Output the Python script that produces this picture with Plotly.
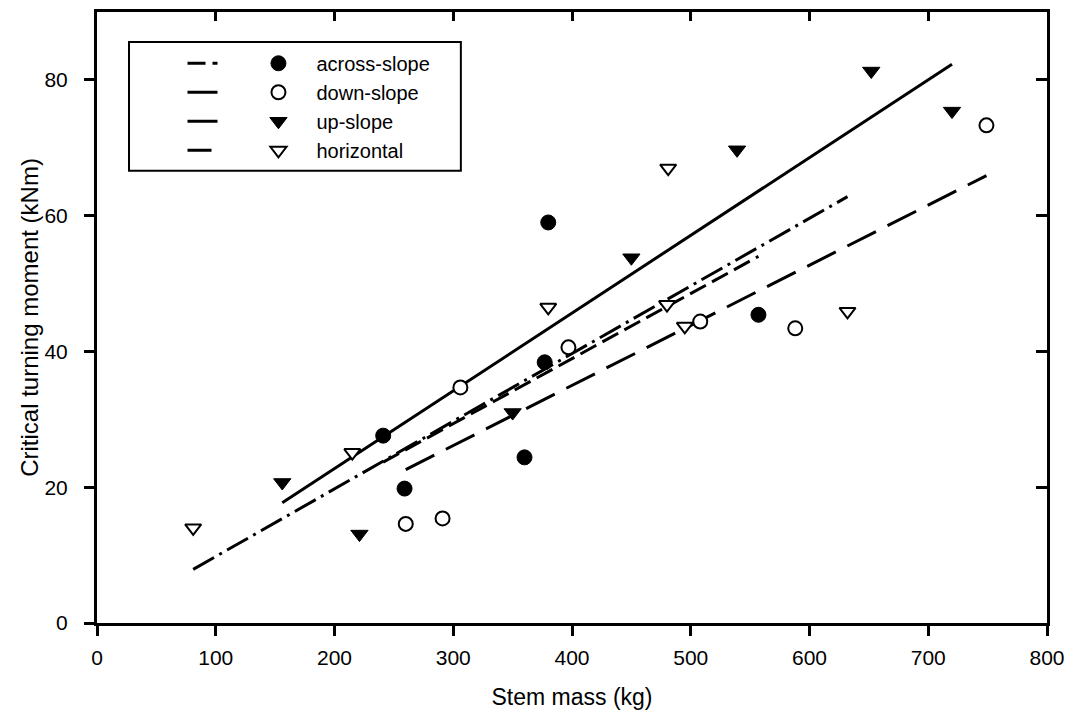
import plotly.graph_objects as go

# ---- data ----
across_x = [241, 259, 360, 377, 380, 557]
across_y = [27.6, 19.8, 24.4, 38.4, 59.0, 45.4]

down_x = [260, 291, 306, 397, 508, 588, 749]
down_y = [14.6, 15.4, 34.7, 40.6, 44.4, 43.4, 73.3]

up_x = [156, 221, 350, 450, 539, 652, 720]
up_y = [20.7, 13.1, 31.0, 53.8, 69.7, 81.3, 75.4]

horiz_x = [81, 215, 380, 481, 480, 495, 632]
horiz_y = [14.0, 25.1, 46.5, 67.0, 46.9, 43.7, 45.9]

# fitted regression lines (end points)
across_fit_x = [241, 557]
across_fit_y = [23.7, 54.0]
down_fit_x = [260, 749]
down_fit_y = [22.6, 65.9]
up_fit_x = [156, 720]
up_fit_y = [17.7, 82.3]
horiz_fit_x = [81, 632]
horiz_fit_y = [7.9, 62.8]

names = ["across-slope", "down-slope", "up-slope", "horizontal"]
x_ticks = list(range(0, 801, 100))
y_ticks = list(range(0, 81, 20))

FONT = "Liberation Sans, Arial, sans-serif"

fig = go.Figure()

# lines
line_specs = [
    (across_fit_x, across_fit_y, "18px,7px"),
    (down_fit_x, down_fit_y, "32px,13px"),
    (up_fit_x, up_fit_y, "solid"),
    (horiz_fit_x, horiz_fit_y, "24px,6px,3px,6px"),
]
for (fx, fy, dash) in line_specs:
    fig.add_trace(go.Scatter(
        x=fx, y=fy, mode="lines", name="",
        line=dict(color="black", width=3, dash=dash),
        legend="legend", showlegend=True, hoverinfo="skip"))

# markers
marker_specs = [
    (across_x, across_y, dict(symbol="circle", size=15, color="black",
                              line=dict(color="black", width=1))),
    (down_x, down_y, dict(symbol="circle", size=14, color="white",
                          line=dict(color="black", width=2))),
    (up_x, up_y, dict(symbol="triangle-down", size=15, color="black",
                      line=dict(color="black", width=1))),
    (horiz_x, horiz_y, dict(symbol="triangle-down", size=14, color="white",
                            line=dict(color="black", width=2))),
]
for name, (mx, my, mk) in zip(names, marker_specs):
    fig.add_trace(go.Scatter(
        x=mx, y=my, mode="markers", name=name, marker=mk,
        legend="legend2", showlegend=True))

# invisible trace to activate mirror axes
fig.add_trace(go.Scatter(x=[], y=[], xaxis="x2", yaxis="y2",
                         showlegend=False, hoverinfo="skip"))

axis_common = dict(showgrid=False, zeroline=False, showline=True, automargin=False,
                   linecolor="black", linewidth=3, tickcolor="black",
                   tickwidth=3, tickfont=dict(family=FONT, size=21, color="black"))

fig.update_layout(
    width=1074, height=711,
    margin=dict(l=97, r=27, t=12, b=88, pad=0, autoexpand=False),
    paper_bgcolor="white", plot_bgcolor="white",
    font=dict(family=FONT, color="black"),
    xaxis=dict(range=[0, 800], tickvals=x_ticks, ticks="outside", ticklen=10,
               ticklabelstandoff=4,
               title=dict(text="Stem mass (kg)", font=dict(family=FONT, size=23),
                          standoff=21),
               **axis_common),
    yaxis=dict(range=[0, 90], tickvals=y_ticks, ticks="outside", ticklen=10,
               ticklabelstandoff=12,
               title=dict(text="Critical turning moment (kNm)",
                          font=dict(family=FONT, size=24), standoff=0),
               **axis_common),
    xaxis2=dict(range=[0, 800], tickvals=x_ticks, ticks="inside", ticklen=9,
                overlaying="x", side="top", anchor="y2", showticklabels=False,
                **axis_common),
    yaxis2=dict(range=[0, 90], tickvals=y_ticks, ticks="inside", ticklen=11,
                overlaying="y", side="right", anchor="x2", showticklabels=False,
                **axis_common),
    legend=dict(x=0.09, y=0.948, xanchor="left", yanchor="top",
                bgcolor="rgba(0,0,0,0)", borderwidth=0,
                font=dict(family=FONT, size=20, color="black"),
                tracegroupgap=0, itemclick=False),
    legend2=dict(x=0.151, y=0.948, xanchor="left", yanchor="top",
                 bgcolor="rgba(0,0,0,0)", borderwidth=0, itemwidth=66,
                 font=dict(family=FONT, size=20, color="black"),
                 tracegroupgap=0, itemclick=False),
    shapes=[dict(type="rect", xref="paper", yref="paper",
                 x0=0.0337, x1=0.383, y0=0.740, y1=0.951,
                 line=dict(color="black", width=2), fillcolor="rgba(0,0,0,0)")],
    showlegend=True,
)

fig.write_html("out.html")
